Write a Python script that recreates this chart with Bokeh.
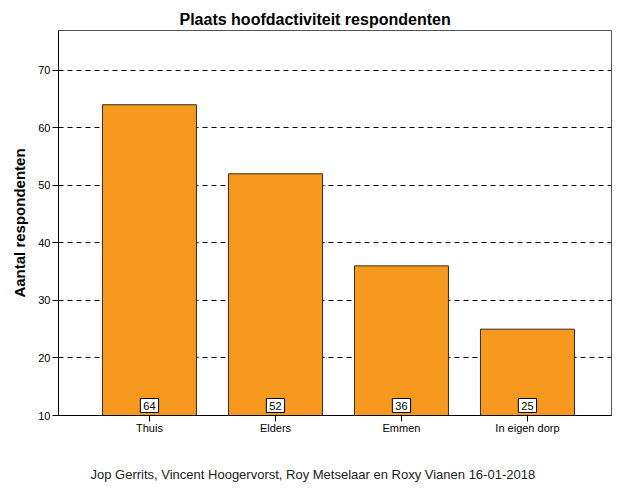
from bokeh.plotting import figure
from bokeh.models import ColumnDataSource, FixedTicker, Range1d, Title
from bokeh.core.properties import value
from bokeh.embed import file_html
from bokeh.resources import INLINE

categories = ["Thuis", "Elders", "Emmen", "In eigen dorp"]
counts = [64, 52, 36, 25]
y_ticks = [10, 20, 30, 40, 50, 60, 70]
title_text = "Plaats hoofdactiviteit respondenten"
y_label = "Aantal respondenten"
footer_text = "Jop Gerrits, Vincent Hoogervorst, Roy Metselaar en Roxy Vianen 16-01-2018"

FONT = "Liberation Sans"
xs = list(range(len(categories)))
base = [10] * len(categories)
src = ColumnDataSource(dict(x=xs, top=counts, bottom=base, lab=[str(c) for c in counts]))

p = figure(width=626, height=501, output_backend="svg", toolbar_location=None,
           x_range=Range1d(-0.722, 3.667), y_range=Range1d(10, 76.9),
           min_border_left=58, min_border_right=15, min_border_top=30, min_border_bottom=85)

p.title.text = title_text
p.title.align = "left"
p.title.offset = 121
p.title.standoff = 6
p.title.text_font = FONT
p.title.text_font_size = "16px"
p.title.text_font_style = "bold"
p.title.text_color = "black"

p.vbar(x="x", top="top", bottom="bottom", width=0.746, source=src,
       fill_color="#F7991F", line_color="#3a2a1a", line_width=1)

p.text(x="x", y="bottom", text="lab", source=src, text_align="center",
       text_baseline="bottom", y_offset=-3, text_font=value(FONT), text_font_size="11px",
       text_color="black", background_fill_color="white",
       border_line_color="black", border_line_width=1, padding=3)

p.xaxis.ticker = FixedTicker(ticks=xs)
p.xaxis.major_label_overrides = {i: c for i, c in enumerate(categories)}
p.yaxis.ticker = FixedTicker(ticks=y_ticks)
p.yaxis.axis_label = y_label

for ax in (p.xaxis, p.yaxis):
    ax.axis_line_color = "black"
    ax.major_tick_line_color = "black"
    ax.major_tick_out = 6
    ax.major_tick_in = 0
    ax.minor_tick_line_color = None
    ax.major_label_text_font = FONT
    ax.major_label_text_font_size = "11px"
    ax.major_label_text_color = "black"
    ax.axis_label_text_font = FONT
    ax.axis_label_text_font_size = "15px"
    ax.axis_label_text_font_style = "bold"
    ax.axis_label_text_color = "black"
p.xaxis.major_label_standoff = 0
p.xaxis.axis_label = " "
p.xaxis.axis_label_text_font_size = "5px"
p.xaxis.axis_label_standoff = 0
p.yaxis.major_label_standoff = 2
p.yaxis.axis_label_standoff = 7

p.xgrid.grid_line_color = None
p.ygrid.grid_line_color = "black"
p.ygrid.grid_line_dash = "5 4"
p.ygrid.grid_line_width = 1

p.outline_line_color = "#555555"
p.outline_line_width = 1
p.background_fill_color = "white"
p.border_fill_color = "white"

foot = Title(text=footer_text, align="left", offset=32, standoff=39,
             text_font=FONT, text_font_size="13px", text_font_style="normal",
             text_color="#222222")
p.add_layout(foot, "below")

open("out.html", "w").write(file_html(p, INLINE))
